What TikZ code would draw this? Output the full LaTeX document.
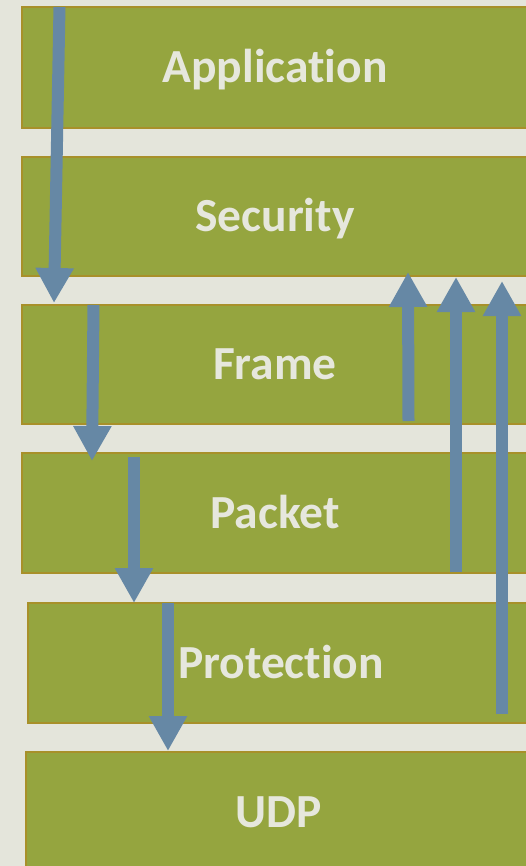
\documentclass[tikz,border=0pt]{standalone}
\usepackage{fontspec}
\setmainfont{Carlito}[RawFeature={-liga}]
\usetikzlibrary{arrows.meta}
\definecolor{pagebg}{HTML}{E4E5DB}
\definecolor{layerfill}{HTML}{95A53F}
\definecolor{layerline}{HTML}{A8902A}
\definecolor{flow}{HTML}{6688A5}
\definecolor{labeltext}{HTML}{E6E7DD}
\tikzset{
  layer/.style={draw=layerline, fill=layerfill, line width=2.5pt, anchor=north west,
    inner sep=0pt, outer sep=0pt, text height=30pt, text depth=0pt,
    text=labeltext, font=\fontsize{47.5}{56}\selectfont\bfseries},
  flowarrow/.style={draw=flow, line width=12pt,
    -{Triangle[length=35pt, width=36pt, fill=flow]}}
}
\begin{document}
\begin{tikzpicture}[x=1pt, y=-1pt]
  \fill[pagebg] (0,0) rectangle (526,866);
  \useasboundingbox (0,0) rectangle (526,866);
  \clip (0,0) rectangle (526,866);

  % protocol layers, top to bottom
  \node[layer, minimum width=506pt, minimum height=121pt] (app)  at (22,7)   {Application};
  \node[layer, minimum width=506pt, minimum height=119pt] (sec)  at (22,157) {Security};
  \node[layer, minimum width=506pt, minimum height=119pt] (frm)  at (22,305) {Frame};
  \node[layer, minimum width=506pt, minimum height=120pt] (pkt)  at (22,453) {Packet};
  \node[layer, minimum width=506pt, minimum height=120pt] (prot) at (28,603) {Protection};
  \node[layer, minimum width=506pt, minimum height=120pt] (udp)  at (26,752) {UDP};

  % ends of the flow arrows
  \coordinate (d1s) at (59.5,7);   \coordinate (d1e) at (54,303);
  \coordinate (d2s) at (93.5,305); \coordinate (d2e) at (92,461);
  \coordinate (d3s) at (134,457);  \coordinate (d3e) at (134,603);
  \coordinate (d4s) at (168,603);  \coordinate (d4e) at (168,751);
  \coordinate (u1s) at (408.5,421);\coordinate (u1e) at (408,272);
  \coordinate (u2s) at (456,572);  \coordinate (u2e) at (456,277);
  \coordinate (u3s) at (502,714);  \coordinate (u3e) at (502,281);

  % downward path
  \draw[flowarrow] (d1s) -- (d1e);
  \draw[flowarrow] (d2s) -- (d2e);
  \draw[flowarrow] (d3s) -- (d3e);
  \draw[flowarrow] (d4s) -- (d4e);
  % upward paths
  \draw[flowarrow] (u1s) -- (u1e);
  \draw[flowarrow] (u2s) -- (u2e);
  \draw[flowarrow] (u3s) -- (u3e);
\end{tikzpicture}
\end{document}
